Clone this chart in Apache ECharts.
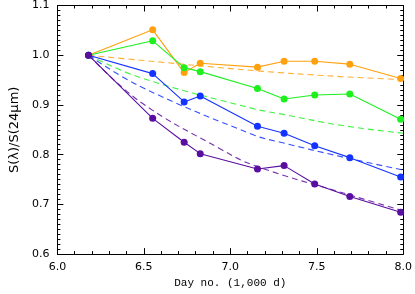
<!DOCTYPE html>
<html><head><meta charset="utf-8">
<script src="https://cdn.jsdelivr.net/npm/echarts@6/dist/echarts.min.js"></script>
<style>html,body{margin:0;padding:0;background:#fff}#c{width:415px;height:294px}</style>
</head><body><div id="c"></div>
<script>
const days = [6.18, 6.551, 6.733, 6.826, 7.157, 7.311, 7.488, 7.691, 7.985];
const orange = [1.0, 1.051, 0.965, 0.984, 0.976, 0.988, 0.988, 0.982, 0.953];
const green  = [1.0, 1.029, 0.975, 0.967, 0.933, 0.912, 0.920, 0.922, 0.871];
const blue   = [1.0, 0.963, 0.906, 0.918, 0.857, 0.843, 0.818, 0.794, 0.755];
const purple = [1.0, 0.873, 0.825, 0.802, 0.771, 0.778, 0.741, 0.716, 0.684];

const orangeFit = [[6.18,1.0],[6.48,0.990],[7.14,0.969],[7.64,0.957],[8.0,0.951]];
const greenFit  = [[6.18,1.0],[6.48,0.955],[7.14,0.892],[7.29,0.882],[7.64,0.859],[8.0,0.843]];
const blueFit   = [[6.18,1.0],[6.48,0.937],[7.14,0.839],[7.29,0.825],[7.64,0.796],[8.0,0.769]];
const purpleFit = [[6.18,1.0],[6.48,0.906],[6.94,0.812],[7.14,0.778],[7.70,0.718],[8.0,0.687]];

const xTicks = [6.0, 6.5, 7.0, 7.5, 8.0];
const yTicks = [0.6, 0.7, 0.8, 0.9, 1.0, 1.1];

const colors = {orange:'#ffa10f', green:'#1ef01e', blue:'#1433ff', purple:'#5a0ea0'};
const pair = (xs, ys) => xs.map((x, i) => [x, ys[i]]);

const chart = echarts.init(document.getElementById('c'), null, {renderer:'canvas'});
const axisBase = {
  axisLine:{show:true, lineStyle:{color:'#000', width:1}},
  axisTick:{show:true, inside:true, length:6, lineStyle:{color:'#000'}},
  splitLine:{show:false}
};
function solid(name, ys, col){
  return {type:'line', name, data:pair(days, ys), symbol:'circle', symbolSize:7,
    lineStyle:{color:col, width:1.1}, itemStyle:{color:col}, z:3};
}
function dashed(name, pts, col){
  return {type:'line', name, data:pts, symbol:'none', smooth:0.4,
    lineStyle:{color:col, width:1.1, type:[6,4], opacity:0.85}, z:2};
}
chart.setOption({
  animation:false,
  grid:{left:43, right:9, top:3, bottom:36},
  xAxis:[
    Object.assign({type:'value', min:6, max:8, interval:0.5, position:'bottom',
      name:'Day no. (1,000 d)', nameLocation:'middle', nameGap:23,
      nameTextStyle:{fontFamily:'Liberation Mono', fontSize:11, color:'#000'},
      axisLabel:{margin:8, fontFamily:'DejaVu Sans', fontSize:11, color:'#000',
        formatter:v=>xTicks.includes(+v.toFixed(1))?v.toFixed(1):''}}, axisBase,
      {minorTick:{show:true, length:3, splitNumber:5, lineStyle:{color:'#000'}}}),
    Object.assign({type:'value', min:6, max:8, interval:0.5, position:'top',
      axisLabel:{show:false}}, axisBase,
      {minorTick:{show:true, length:3, splitNumber:5, lineStyle:{color:'#000'}}})
  ],
  yAxis:[
    Object.assign({type:'value', min:0.6, max:1.1, interval:0.1, position:'left',
      name:'S(λ)/S(24μm)', nameLocation:'middle', nameGap:33,
      nameTextStyle:{fontFamily:'DejaVu Sans', fontSize:13, color:'#000'},
      axisLabel:{margin:8, fontFamily:'DejaVu Sans', fontSize:11, color:'#000',
        formatter:v=>yTicks.includes(+v.toFixed(1))?v.toFixed(1):''}}, axisBase,
      {minorTick:{show:true, length:3, splitNumber:10, lineStyle:{color:'#000'}}}),
    Object.assign({type:'value', min:0.6, max:1.1, interval:0.1, position:'right',
      axisLabel:{show:false}}, axisBase,
      {minorTick:{show:true, length:3, splitNumber:10, lineStyle:{color:'#000'}}})
  ],
  series:[
    dashed('orangeFit', orangeFit, colors.orange),
    dashed('greenFit', greenFit, colors.green),
    dashed('blueFit', blueFit, colors.blue),
    dashed('purpleFit', purpleFit, colors.purple),
    solid('orange', orange, colors.orange),
    solid('green', green, colors.green),
    solid('blue', blue, colors.blue),
    solid('purple', purple, colors.purple)
  ]
});
</script></body></html>
